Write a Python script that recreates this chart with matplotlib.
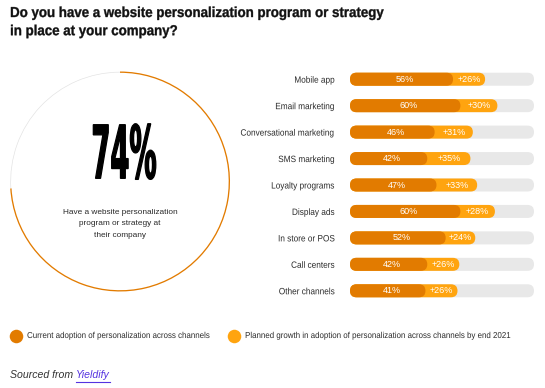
import matplotlib
matplotlib.use("Agg")
import matplotlib.pyplot as plt
from matplotlib.patches import FancyBboxPatch
from matplotlib.patheffects import AbstractPathEffect
from matplotlib.transforms import Affine2D

# ---------------- data ----------------
title = "Do you have a website personalization program or strategy\nin place at your company?"
overall_pct = 74
overall_text = "Have a website personalization\nprogram or strategy at\ntheir company"
channels = ["Mobile app", "Email marketing", "Conversational marketing", "SMS marketing",
            "Loyalty programs", "Display ads", "In store or POS", "Call centers", "Other channels"]
current = [56, 60, 46, 42, 47, 60, 52, 42, 41]
growth = [26, 30, 31, 35, 33, 28, 24, 26, 26]
legend_labels = ["Current adoption of personalization across channels",
                 "Planned growth in adoption of personalization across channels by end 2021"]
source_prefix = "Sourced from "
source_name = "Yieldify"

# ---------------- style ----------------
C_CUR = "#E27B00"
C_GRO = "#FFA40F"
C_TRACK = "#E8E8E8"
C_RING_REST = "#E2E2E2"
C_TEXT = "#2B2B2B"
C_LINK = "#5533E0"
GROWTH_SCALE = 0.67  # visual length of the growth segment relative to its label
FONT = "Liberation Sans"

W, H = 545, 388
fig = plt.figure(figsize=(W / 100, H / 100), dpi=100)
fig.patch.set_facecolor("white")


class Squeeze(AbstractPathEffect):
    """Horizontally condense text glyphs (text stays a Text artist)."""
    def __init__(self, sx=0.5, stroke=0.0, anchor="center"):
        super().__init__()
        self.sx = sx
        self.stroke = stroke
        self.anchor = anchor

    def draw_path(self, renderer, gc, tpath, affine, rgbFace=None):
        ext = tpath.get_extents(affine)
        if self.anchor == "center":
            cx = (ext.x0 + ext.x1) / 2
        elif self.anchor == "right":
            cx = ext.x1
        else:
            cx = ext.x0
        t = affine + Affine2D().translate(-cx, 0).scale(self.sx, 1).translate(cx, 0)
        gc0 = renderer.new_gc()
        gc0.copy_properties(gc)
        if self.stroke > 0:
            gc0.set_linewidth(self.stroke)
            gc0.set_foreground(rgbFace)
            gc0.set_joinstyle("miter")
        else:
            gc0.set_linewidth(0)
        renderer.draw_path(gc0, tpath, t, rgbFace)
        gc0.restore()


def fx(px):
    return px / W


def fy(py):
    return 1 - py / H


# ---------------- title ----------------
fig.text(fx(10), fy(6), title, ha="left", va="top", fontsize=10.4, fontweight="bold",
         family=FONT, color="#111111", linespacing=1.38,
         path_effects=[Squeeze(0.92, stroke=0.25, anchor="left")])

# ---------------- ring ----------------
cx, cy, r = 120, 181.5, 110
ax_ring = fig.add_axes([fx(cx - r - 2), fy(cy + r + 2), (2 * r + 4) / W, (2 * r + 4) / H])
wedges, _ = ax_ring.pie([overall_pct, 100 - overall_pct], colors=[C_CUR, C_RING_REST],
                        startangle=90, counterclock=False,
                        wedgeprops=dict(width=0.012, linewidth=0))
wedges[1].set_width(0.006)
wedges[1].set_radius(0.997)
lim = (r + 2) / r
ax_ring.set_xlim(-lim, lim)
ax_ring.set_ylim(-lim, lim)
ax_ring.set_aspect("equal")
ax_ring.axis("off")

ax_ring.text(0.03, 0.215, f"{overall_pct}%", ha="center", va="center", fontsize=53,
             fontweight="bold", family="DejaVu Sans", color="#000000",
             path_effects=[Squeeze(0.37, stroke=0.9)])
ax_ring.text(0.0, -0.385, overall_text, ha="center", va="center", fontsize=5.95,
             family=FONT, color=C_TEXT, linespacing=1.85)

# ---------------- bars ----------------
bx0, bx1, by0, by1 = 350, 534, 66, 304
ax = fig.add_axes([fx(bx0), fy(by1), (bx1 - bx0) / W, (by1 - by0) / H])
n = len(channels)
ax.set_xlim(0, 100)
ax.set_ylim(n - 0.5, -0.5)
bar_h = 13 / ((by1 - by0) / n)
xu = 100 / (bx1 - bx0)
yu = n / (by1 - by0)
m_aspect = yu / xu
rad = bar_h / m_aspect / 2 * 0.999


def rbar(x0, x1, y, color, z):
    p = FancyBboxPatch((x0, y - bar_h / 2), x1 - x0, bar_h,
                       boxstyle=f"round,pad=0,rounding_size={rad}",
                       mutation_aspect=m_aspect, facecolor=color, edgecolor="none",
                       zorder=z)
    ax.add_patch(p)


for i, (c, g) in enumerate(zip(current, growth)):
    end = c + g * GROWTH_SCALE
    rbar(0, 100, i, C_TRACK, 1)
    rbar(0, end, i, C_GRO, 2)
    rbar(0, c, i, C_CUR, 3)
    ax.text(c / 2 + 2, i, f"{c}%", ha="center", va="center", color="white",
            fontsize=6.5, family=FONT, zorder=4)
    ax.text((c + end) / 2, i, f"+{g}%", ha="center", va="center", color="white",
            fontsize=6.5, family=FONT, zorder=4)

ax.set_yticks(range(n))
ax.set_yticklabels(channels, fontsize=6.6, family=FONT, color=C_TEXT)
for tl in ax.get_yticklabels():
    tl.set_path_effects([Squeeze(0.9, anchor="right")])
ax.tick_params(axis="y", length=0, pad=10.8)
ax.set_xticks([])
for s in ax.spines.values():
    s.set_visible(False)
ax.patch.set_alpha(0)

# ---------------- legend ----------------
ax_bg = fig.add_axes([0, 0, 1, 1], zorder=-1)
ax_bg.set_xlim(0, W)
ax_bg.set_ylim(H, 0)
ax_bg.axis("off")
legend_x = [16, 234]
for lx, lab, col in zip(legend_x, legend_labels, [C_CUR, C_GRO]):
    ax_bg.scatter([lx], [335.5], s=95, color=col, linewidths=0)
    ax_bg.text(lx + 11, 335.5, lab, ha="left", va="center", fontsize=6.2,
               family=FONT, color=C_TEXT, path_effects=[Squeeze(0.92, anchor="left")])

# ---------------- source ----------------
t1 = fig.text(fx(10), fy(375), source_prefix, ha="left", va="center", fontsize=7.6,
              family=FONT, style="italic", color="#333333")
fig.canvas.draw()
bb = t1.get_window_extent()
t2 = fig.text(bb.x1 / W, fy(375), source_name, ha="left", va="center", fontsize=7.6,
              family=FONT, style="italic", color=C_LINK)
fig.canvas.draw()
bb2 = t2.get_window_extent()
ax_bg.plot([bb2.x0, bb2.x1], [382, 382], color=C_LINK, linewidth=0.8)

fig.savefig("out.png", dpi=100, facecolor="white")
